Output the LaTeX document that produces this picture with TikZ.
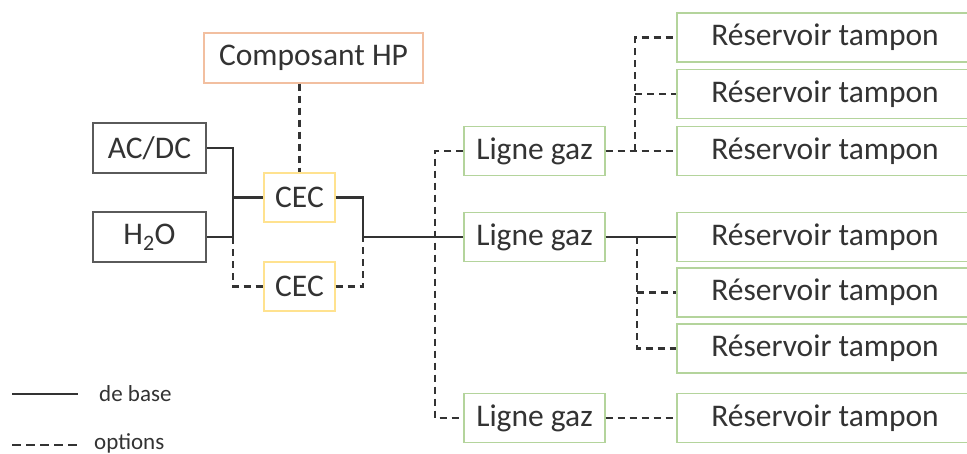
\documentclass[tikz,border=0pt]{standalone}
\usepackage{fontspec}
\setmainfont{Carlito}
\definecolor{txt}{HTML}{333333}
\definecolor{grayb}{HTML}{5A5A5A}
\definecolor{orangeb}{HTML}{F2BFA0}
\definecolor{yellowb}{HTML}{FFE28F}
\definecolor{greenb}{HTML}{B4D49C}
\definecolor{linec}{HTML}{333333}
\begin{document}
\begin{tikzpicture}[x=1pt,y=-1pt,
  box/.style={rectangle, draw, line width=1.4pt, inner sep=0pt, text=txt,
    font=\fontsize{31.5}{36}\selectfont, anchor=center},
  graybox/.style={box, draw=grayb},
  hpbox/.style={box, draw=orangeb},
  cecbox/.style={box, draw=yellowb, minimum width=71pt, minimum height=49pt},
  gazbox/.style={box, draw=greenb, minimum width=141pt, minimum height=49pt},
  resbox/.style={box, draw=greenb, minimum width=296pt, minimum height=49pt},
  base/.style={draw=linec, line width=2.2pt},
  opt/.style={draw=linec, line width=2.2pt, dash pattern=on 7pt off 5pt},
  lgd/.style={text=txt, font=\fontsize{23}{28}\selectfont, anchor=west, inner sep=0pt}]
\useasboundingbox (0,0) rectangle (967,453);
\fill[white] (0,0) rectangle (967,453);

% left column
\node[hpbox, minimum width=219pt, minimum height=50pt] (hp) at (313.5,58) {Composant HP};
\node[graybox, minimum width=113pt, minimum height=50pt] (acdc) at (149.5,148) {AC/DC};
\node[graybox, minimum width=113pt, minimum height=50pt] (h2o) at (149.5,237) {H\textsubscript{2}O};
\node[cecbox] (cec1) at (299.5,197.5) {CEC};
\node[cecbox] (cec2) at (299.5,286.5) {CEC};

% gas lines
\node[gazbox] (lg1) at (534.5,151) {Ligne gaz};
\node[gazbox] (lg2) at (534.5,237) {Ligne gaz};
\node[gazbox] (lg3) at (534.5,418) {Ligne gaz};

% tanks
\node[resbox] (r1) at (825,37.5) {Réservoir tampon};
\node[resbox] (r2) at (825,94) {Réservoir tampon};
\node[resbox] (r3) at (825,151) {Réservoir tampon};
\node[resbox] (r4) at (825,237) {Réservoir tampon};
\node[resbox] (r5) at (825,292.5) {Réservoir tampon};
\node[resbox] (r6) at (825,348.5) {Réservoir tampon};
\node[resbox] (r7) at (825,418) {Réservoir tampon};

% junction coordinates
\coordinate (ja) at (233,148);
\coordinate (jb) at (233,197.5);
\coordinate (jc) at (233,237);
\coordinate (jd) at (233,286.5);
\coordinate (ka) at (363,197.5);
\coordinate (kb) at (363,237);
\coordinate (kc) at (363,286.5);
\coordinate (la) at (435,151);
\coordinate (lb) at (435,418);
\coordinate (ma) at (635,151);
\coordinate (mb) at (635,37.5);
\coordinate (mc) at (635,94);
\coordinate (na) at (637,237);
\coordinate (nb) at (637,292.5);
\coordinate (nc) at (637,348.5);

% connectors
\draw[base] (acdc.east) -- (ja) -- (jc) -- (h2o.east);
\draw[base] (jb) -- (cec1.west);
\draw[opt] (jc) -- (jd) -- (cec2.west);
\draw[opt] (hp.south -| cec1.north) -- (cec1.north);
\draw[base] (cec1.east) -- (ka) -- (kb) -- (lg2.west);
\draw[opt] (cec2.east) -- (kc) -- (kb);
\draw[opt] (lg1.west) -- (la) -- (lb) -- (lg3.west);
\draw[opt] (lg1.east) -- (r3.west);
\draw[opt] (ma) -- (mb) -- (r1.west);
\draw[opt] (mc) -- (r2.west);
\draw[base] (lg2.east) -- (r4.west);
\draw[opt] (na) -- (nc) -- (r6.west);
\draw[opt] (nb) -- (r5.west);
\draw[opt] (lg3.east) -- (r7.west);

% legend
\coordinate (l1a) at (12,394);
\coordinate (l1b) at (78,394);
\coordinate (l2a) at (12,445);
\coordinate (l2b) at (78,445);
\draw[base] (l1a) -- (l1b);
\draw[draw=linec, line width=2.2pt, dash pattern=on 9pt off 5pt] (l2a) -- (l2b);
\node[lgd] (lb1) at (99,394) {de base};
\node[lgd] (lb2) at (94,443) {options};
\end{tikzpicture}
\end{document}
